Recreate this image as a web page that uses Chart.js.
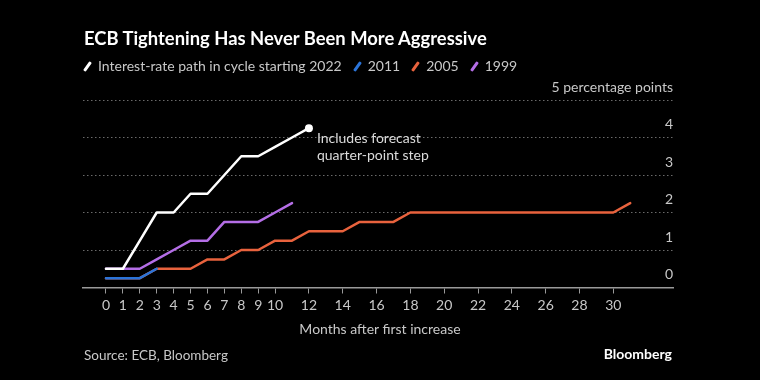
<!DOCTYPE html>
<html>
<head>
<meta charset="utf-8">
<script src="https://cdn.jsdelivr.net/npm/chart.js@4"></script>
<style>
  html, body { margin:0; padding:0; background:#000; }
  #wrap { position:relative; width:760px; height:380px; background:#000; font-family: Lato, "Open Sans", sans-serif; color:#c8c8c8; overflow:hidden; }
  #c { position:absolute; left:0; top:0; }
  .t { position:absolute; white-space:nowrap; }
  #title { left:84px; top:27px; font-size:18.4px; font-weight:700; color:#fff; line-height:22px; }
  #legend { left:84px; top:57px; font-size:14px; line-height:18px; display:flex; align-items:center; }
  #legend .item { display:flex; align-items:center; margin-right:12px; }
  #legend .sw { display:inline-block; width:3px; height:11px; transform:rotate(35deg); margin-right:9px; margin-left:2px; border-radius:1px; }
  #xtitle { left:0; width:760px; top:320px; text-align:center; font-size:14px; line-height:18px; }
  #source { left:84px; top:346px; font-size:13.5px; line-height:18px; }
  #brand { right:88px; top:345px; font-size:14px; font-weight:700; color:#fff; line-height:18px; }
</style>
</head>
<body>
<div id="wrap">
  <canvas id="c" width="760" height="380"></canvas>
  <div class="t" id="title">ECB Tightening Has Never Been More Aggressive</div>
  <div class="t" id="legend"></div>
  <div class="t" id="xtitle">Months after first increase</div>
  <div class="t" id="source">Source: ECB, Bloomberg</div>
  <div class="t" id="brand">Bloomberg</div>
</div>
<script>
// ---- data ----
const seriesNames = ["Interest-rate path in cycle starting 2022", "2011", "2005", "1999"];
const seriesColors = ["#ffffff", "#2b74d9", "#e8623d", "#b46ee6"];

const months2022 = [0, 1, 2, 3, 4, 5, 6, 7, 8, 9, 10, 11, 12];
const values2022 = [0.5, 0.5, 1.25, 2.0, 2.0, 2.5, 2.5, 3.0, 3.5, 3.5, 3.75, 4.0, 4.25];

const months2011 = [0, 1, 2, 3];
const values2011 = [0.25, 0.25, 0.25, 0.5];

const months2005 = [0, 1, 2, 3, 4, 5, 6, 7, 8, 9, 10, 11, 12, 13, 14, 15, 16, 17, 18, 19, 20, 21, 22, 23, 24, 25, 26, 27, 28, 29, 30, 31];
const values2005 = [0.25, 0.25, 0.25, 0.5, 0.5, 0.5, 0.75, 0.75, 1.0, 1.0, 1.25, 1.25, 1.5, 1.5, 1.5, 1.75, 1.75, 1.75, 2.0, 2.0, 2.0, 2.0, 2.0, 2.0, 2.0, 2.0, 2.0, 2.0, 2.0, 2.0, 2.0, 2.25];

const months1999 = [0, 1, 2, 3, 4, 5, 6, 7, 8, 9, 10, 11];
const values1999 = [0.5, 0.5, 0.5, 0.75, 1.0, 1.25, 1.25, 1.75, 1.75, 1.75, 2.0, 2.25];

const xTickValues = [0, 1, 2, 3, 4, 5, 6, 7, 8, 9, 10, 12, 14, 16, 18, 20, 22, 24, 26, 28, 30];
const yTickValues = [0, 1, 2, 3, 4, 5];
const yUnitLabel = "5 percentage points";
const annotationLines = ["Includes forecast", "quarter-point step"];

// ---- legend (HTML) ----
const legendEl = document.getElementById('legend');
seriesNames.forEach((n, i) => {
  const it = document.createElement('span'); it.className = 'item';
  const sw = document.createElement('span'); sw.className = 'sw'; sw.style.background = seriesColors[i];
  const tx = document.createElement('span'); tx.textContent = n;
  it.appendChild(sw); it.appendChild(tx); legendEl.appendChild(it);
});

const pts = (xs, ys) => xs.map((x, i) => ({ x, y: ys[i] }));
const FONT = "Lato, 'Open Sans', sans-serif";

const annotationPlugin = {
  id: 'annot',
  afterDatasetsDraw(chart) {
    const { ctx, scales: { x, y } } = chart;
    const lx = months2022[months2022.length - 1], ly = values2022[values2022.length - 1];
    const px = x.getPixelForValue(lx) + 8, py = y.getPixelForValue(ly) + 10;
    ctx.save();
    ctx.fillStyle = '#dcdcdc';
    ctx.font = '14px ' + FONT;
    ctx.textBaseline = 'middle';
    ctx.textAlign = 'left';
    annotationLines.forEach((t, i) => ctx.fillText(t, px, py + i * 17));
    ctx.restore();
  }
};

const ds = (i, data, extra) => Object.assign({
  label: seriesNames[i], data, borderColor: seriesColors[i], backgroundColor: seriesColors[i],
  borderWidth: 2.5, pointRadius: 0, tension: 0, fill: false, borderJoinStyle: 'round', borderCapStyle: 'round'
}, extra || {});

new Chart(document.getElementById('c'), {
  type: 'line',
  data: {
    datasets: [
      ds(0, pts(months2022, values2022), { pointRadius: c => c.dataIndex === months2022.length - 1 ? 4 : 0, pointBackgroundColor: '#fff', pointBorderWidth: 0 }),
      ds(3, pts(months1999, values1999)),
      ds(1, pts(months2011, values2011)),
      ds(2, pts(months2005, values2005))
    ]
  },
  options: {
    responsive: false, animation: false, devicePixelRatio: 1,
    layout: { padding: { left: 83, right: 87, top: 100, bottom: 0 } },
    plugins: { legend: { display: false }, tooltip: { enabled: false }, title: { display: false } },
    scales: {
      x: {
        type: 'linear', min: -1.36, max: 33.53,
        afterBuildTicks: s => { s.ticks = xTickValues.map(v => ({ value: v })); },
        afterFit: s => { s.height = 92.5; },
        grid: { drawOnChartArea: false, drawTicks: true, tickLength: 6, color: '#9a9a9a', lineWidth: 1 },
        border: { display: true, color: '#9a9a9a', width: 1.5 },
        ticks: { color: '#c8c8c8', font: { family: FONT, size: 14 }, padding: 4, maxRotation: 0, autoSkip: false, callback: v => String(v) }
      },
      y: {
        position: 'right', min: 0, max: 5,
        afterBuildTicks: s => { s.ticks = yTickValues.map(v => ({ value: v })); },
        afterFit: s => { s.width = 0; },
        grid: { drawTicks: false, color: c => (c.tick && c.tick.value === 0) ? 'rgba(0,0,0,0)' : '#6a6a6a', lineWidth: 1 },
        border: { display: false, dash: [1.5, 2.5] },
        ticks: { mirror: true, padding: 0, labelOffset: -13, color: '#c8c8c8', font: { family: FONT, size: 14 },
                 callback: v => v === 5 ? yUnitLabel : String(v) }
      }
    }
  },
  plugins: [annotationPlugin]
});
</script>
</body>
</html>
